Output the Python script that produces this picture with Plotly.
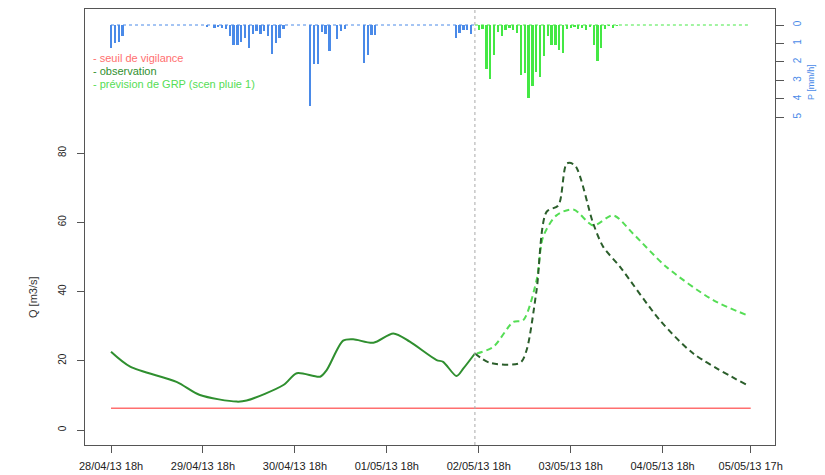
import pandas as pd
import plotly.graph_objects as go

# ---------------- data ----------------
start = pd.Timestamp("2013-04-28 18:00")
forecast_time_h = 95          # 02/05/13 17h
end_h = 167                   # 05/05/13 17h

# observed discharge, solid (hours from start, m3/s)
obs_h = [0, 5, 17.1, 23.2, 32.8, 35.4, 45, 48.5, 54.6, 56.3, 60.6, 63.2, 68.5,
         73.7, 78, 85, 86.7, 90.2, 92, 95]
obs_q = [22.6, 18.3, 13.9, 10.1, 8.2, 8.5, 13.0, 16.4, 15.4, 17.3, 25.8, 26.2,
         25.2, 27.9, 25.5, 20.2, 19.7, 15.6, 17.8, 22.1]

# observed discharge after forecast time (dashed)
obs2_h = [95, 98.9, 106.8, 108.5, 111.1, 113.7, 116.8, 119, 121.1, 125.9,
          128.5, 132.9, 143.3, 152, 166]
obs2_q = [22.1, 19.4, 19.4, 23.1, 40.4, 63.0, 64.9, 77.0, 76.5, 59.6,
          52.9, 47.1, 31.7, 22.1, 13.0]

# GRP forecast (scen pluie 1)
prev_h = [95.5, 99.8, 105, 107.6, 111.1, 112.8, 116.3, 120.7, 125.9, 131.1,
          136.3, 145, 157.2, 166]
prev_q = [22.1, 24.0, 31.2, 31.7, 43.3, 55.8, 62.0, 63.7, 59.1, 62.0,
          56.7, 47.1, 37.5, 33.2]

seuil_vigilance = 6.3

# hourly rainfall, observed (h 0..95)
rain_obs = [1.26, 1.0, 0.9, 0.6] + [0] * 21 + \
    [0.1, 0, 0.15, 0.1, 0.15, 0.2, 0.6, 1.1, 1.1, 0.9, 0.7, 1.25, 0.5, 0.3,
     0.5, 0.3, 0.6, 1.55, 1.0, 0.7, 0.2] + [0] * 6 + \
    [4.4, 2.1, 2.1, 0.4, 0.5, 1.4, 0, 0.75, 0.35, 0.2] + [0] * 4 + \
    [2.05, 1.6, 0.55, 0.55] + [0] * 20 + \
    [0.7, 0.45, 0.25, 0.25, 0.5, 0]
# hourly rainfall, forecast scenario (h 96..167)
rain_prev = [0.27, 0.2, 2.4, 2.95, 1.6, 0.4, 0.6, 0.25, 0.15, 0.25, 0.45,
             2.7, 2.6, 3.95, 3.3, 2.55, 2.8, 1.7, 0.6, 1.07, 1.07, 1.33, 1.5,
             0.2, 0.15, 0.1, 0.2, 0.15, 0.25, 0.1, 1.07, 1.95, 1.25, 0.2,
             0.05, 0.15, 0.05] + [0] * 35

tick_h = [0, 24, 48, 72, 96, 120, 144, 167]
tick_text = ["28/04/13 18h", "29/04/13 18h", "30/04/13 18h", "01/05/13 18h",
             "02/05/13 18h", "03/05/13 18h", "04/05/13 18h", "05/05/13 17h"]
q_ticks = [0, 20, 40, 60, 80]
p_ticks = [0, 1, 2, 3, 4, 5]

# ---------------- helpers ----------------
def t(hours):
    return [start + pd.Timedelta(hours=h) for h in hours]

H = 3600000
rain_obs_h = list(range(len(rain_obs)))
rain_prev_h = list(range(len(rain_obs), len(rain_obs) + len(rain_prev)))

BLUE = "#4a8ae8"
GREEN = "#44e844"
DKGREEN = "#2f8f2f"
DASHDK = "#2b5e2b"
LTGREEN = "#55dd55"
RED = "#ff6f6f"
FONT = "Liberation Sans"

fig = go.Figure()

# rainfall (secondary reversed axis)
fig.add_trace(go.Scatter(x=t([0, forecast_time_h]), y=[0, 0], yaxis="y2",
                         mode="lines", line=dict(color=BLUE, width=1, dash="dot"),
                         showlegend=False))
fig.add_trace(go.Scatter(x=t([forecast_time_h, end_h]), y=[0, 0], yaxis="y2",
                         mode="lines", line=dict(color=GREEN, width=1, dash="dot"),
                         showlegend=False))
fig.add_trace(go.Bar(x=t(rain_obs_h), y=rain_obs, yaxis="y2",
                     marker=dict(color=BLUE, line=dict(width=0)),
                     width=0.6 * H, showlegend=False))
fig.add_trace(go.Bar(x=t(rain_prev_h), y=rain_prev, yaxis="y2",
                     marker=dict(color=GREEN, line=dict(width=0)),
                     width=0.6 * H, showlegend=False))

# threshold
fig.add_trace(go.Scatter(x=t([0, end_h]), y=[seuil_vigilance] * 2, mode="lines",
                         line=dict(color=RED, width=1.5), showlegend=False))
# forecast
fig.add_trace(go.Scatter(x=t(prev_h), y=prev_q, mode="lines",
                         line=dict(color=LTGREEN, width=2, dash="6px,4px",
                                   shape="spline", smoothing=0.8),
                         showlegend=False))
# observation
fig.add_trace(go.Scatter(x=t(obs2_h), y=obs2_q, mode="lines",
                         line=dict(color=DASHDK, width=2, dash="6px,4px",
                                   shape="spline", smoothing=0.8),
                         showlegend=False))
fig.add_trace(go.Scatter(x=t(obs_h), y=obs_q, mode="lines",
                         line=dict(color=DKGREEN, width=2,
                                   shape="spline", smoothing=0.8),
                         showlegend=False))

# forecast time vertical line
fig.add_shape(type="line", xref="x", yref="paper",
              x0=t([forecast_time_h])[0], x1=t([forecast_time_h])[0], y0=0, y1=1,
              line=dict(color="#aaaaaa", width=1, dash="dot"))

# legend-like text
legend_items = [("- seuil de vigilance", RED),
                ("- observation", DKGREEN),
                ("- prévision de GRP (scen pluie 1)", LTGREEN)]
for i, (txt, col) in enumerate(legend_items):
    fig.add_annotation(xref="paper", yref="paper", x=0.008, y=1 - (49 + 13 * i) / 436,
                       text=txt, showarrow=False, xanchor="left", yanchor="middle",
                       font=dict(family=FONT, size=11, color=col))

# axis titles
fig.add_annotation(xref="paper", yref="paper", x=(25 - 85) / 690, y=(445 - 297) / 436,
                   text="Q [m3/s]", textangle=-90, showarrow=False,
                   font=dict(family=FONT, size=11, color="#333333"))
fig.add_annotation(xref="paper", yref="paper", x=(818 - 85) / 690, y=(445 - 62) / 436,
                   text="P [mm/h]", textangle=-90, showarrow=False,
                   font=dict(family=FONT, size=9, color=BLUE))

x_lo = start + pd.Timedelta(hours=-6.79)
x_hi = start + pd.Timedelta(hours=end_h + 6.34)

# page body has an 8px margin: figure sized/margined to compensate
fig.update_layout(
    width=817, height=467,
    margin=dict(l=77, r=50, t=1, b=30),
    paper_bgcolor="white", plot_bgcolor="white",
    barmode="overlay", bargap=0,
    font=dict(family=FONT, size=10, color="#333333"),
    xaxis=dict(range=[x_lo, x_hi], tickvals=t(tick_h), ticktext=tick_text,
               showgrid=False, zeroline=False, showline=True, mirror=True,
               linecolor="#555555", linewidth=1, ticks="outside", ticklen=7,
               tickcolor="#555555", ticklabelstandoff=4,
               tickfont=dict(size=11, color="#222222")),
    yaxis=dict(range=[-4.33, 121.6], tickvals=q_ticks, tickangle=-90,
               showgrid=False, zeroline=False, showline=True, mirror=True,
               linecolor="#555555", linewidth=1, ticks="outside", ticklen=7,
               tickcolor="#555555", ticklabelstandoff=7,
               tickfont=dict(size=10, color="#222222")),
    yaxis2=dict(range=[22.75, -0.867], overlaying="y", side="right",
                tickvals=p_ticks, tickangle=-90, showgrid=False, zeroline=False,
                showline=False, ticks="outside", ticklen=8, tickcolor="#555555",
                ticklabelstandoff=5,
                tickfont=dict(size=10, color=BLUE)),
)

fig.write_html("out.html")
